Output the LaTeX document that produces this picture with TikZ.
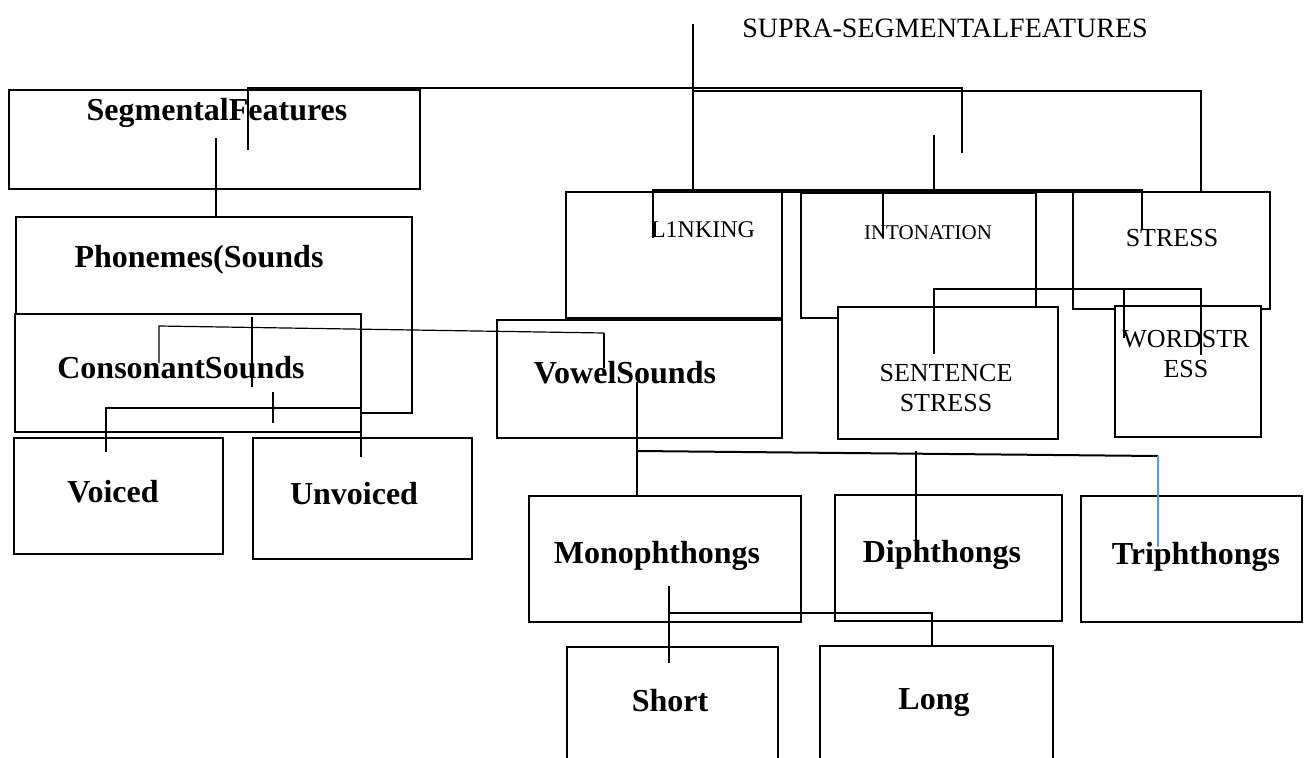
\documentclass[tikz,border=0pt]{standalone}
\usepackage{fontspec}
\setmainfont{Liberation Serif}
\usetikzlibrary{calc}
\definecolor{linkblue}{HTML}{5B9BD5}

\begin{document}
\begin{tikzpicture}[
  x=1pt,y=-1pt,
  box/.style={rectangle,draw=black,line width=2.9pt,inner sep=0pt},
  cover/.style={box,fill=white},
  sz/.style 2 args={minimum width=#1pt,minimum height=#2pt},
  lbl/.style={font=\fontsize{32}{38}\selectfont\bfseries,inner sep=0pt,anchor=base},
  caps/.style={font=\fontsize{26}{30}\selectfont,inner sep=0pt,align=center},
  conn/.style={line width=1.2pt,color=black},
  thickconn/.style={line width=2pt,color=black}
]
\useasboundingbox (0,0) rectangle (1310,758);

% boxes
\node[box,sz={411}{99}] (seg) at (214.5,139.5) {};
\node[box,sz={508}{101}] (supra) at (947,141.5) {};
\node[box,sz={396}{196}] (phon) at (214,315) {};
\node[cover,sz={346}{118}] (cons) at (188,373) {};
\node[box,sz={209}{116}] (voiced) at (118.5,496) {};
\node[box,sz={219}{121}] (unvoiced) at (362.5,498.5) {};
\node[box,sz={216}{126}] (link) at (674,255) {};
\node[box,sz={235}{125}] (inton) at (918.5,255.5) {};
\node[box,sz={197}{117}] (stress) at (1171.5,250.5) {};
\node[box,sz={285}{118}] (vowel) at (639.5,379) {};
\node[cover,sz={220}{132}] (sent) at (948,373) {};
\node[cover,sz={146}{131}] (word) at (1188,371.5) {};
\node[box,sz={272}{126}] (mono) at (665,559) {};
\node[box,sz={227}{126}] (diph) at (948.5,558) {};
\node[box,sz={221}{126}] (triph) at (1191.5,559) {};
\node[box,sz={211}{153}] (short) at (672.5,723.5) {};
\node[box,sz={233}{154}] (long) at (936.5,723) {};

% labels
\node[caps,anchor=base,font=\fontsize{28}{32}\selectfont] (supratxt) at (945,37) {SUPRA-SEGMENTALFEATURES};
\node[lbl] (segtxt) at (217,120) {SegmentalFeatures};
\node[lbl] (phontxt) at (199,267) {Phonemes(Sounds};
\node[lbl] (constxt) at (181,378) {ConsonantSounds};
\node[lbl] (voicedtxt) at (113,502) {Voiced};
\node[lbl] (unvoicedtxt) at (354,504) {Unvoiced};
\node[lbl] (voweltxt) at (625,383) {VowelSounds};
\node[lbl] (monotxt) at (657,563) {Monophthongs};
\node[lbl] (diphtxt) at (942,562) {Diphthongs};
\node[lbl] (triphtxt) at (1196,564) {Triphthongs};
\node[lbl] (shorttxt) at (670,711) {Short};
\node[lbl] (longtxt) at (934,709) {Long};
\node[caps,anchor=base,font=\fontsize{24}{28}\selectfont] (linktxt) at (703,237) {L1NKING};
\node[caps,anchor=base,font=\fontsize{21}{25}\selectfont] (intontxt) at (928,239) {INTONATION};
\node[caps,anchor=base] (stresstxt) at (1172,246) {STRESS};
\node[caps] (senttxt) at (946,388) {SENTENCE\\STRESS};
\node[caps] (wordtxt) at (1186,354) {WORDSTR\\ESS};

% connector ends
\coordinate (supstem) at (693,24);
\coordinate (segstem) at (248,150);
\coordinate (supdrop) at (962,153);
\coordinate (segfoot) at (216,138);
\coordinate (supfoot) at (934,135);
\coordinate (supbar) at (934,190);
\coordinate (linkin) at (653,238);
\coordinate (intonin) at (883,238);
\coordinate (stressin) at (1142,230);
\coordinate (phonfoot) at (252,317);
\coordinate (consin) at (252,387);
\coordinate (consstem) at (159,363);
\coordinate (vowelin) at (604,368);
\coordinate (constick) at (273,392);
\coordinate (voicedin) at (106,452);
\coordinate (unvoicedin) at (361,457);
\coordinate (vowelfoot) at (637,382);
\coordinate (vowelbar) at (637,451);
\coordinate (triphbar) at (1158,456);
\coordinate (triphin) at (1158,547);
\coordinate (diphin) at (916,540);
\coordinate (monofoot) at (669,586);
\coordinate (shortin) at (669,663);
\coordinate (monobar) at (669,613);
\coordinate (longin) at (932,646);
\coordinate (sentin) at (934,354);
\coordinate (wordin) at (1201,355);
\coordinate (wordmid) at (1124,338);

% connectors
\draw[conn] (supstem) -- (supstem |- supra.north);
\draw[conn] (segstem) -- ++(0,-62) -| (supdrop);
\draw[conn] (segfoot) -- (segfoot |- phon.north);
\draw[conn] (supfoot) -- (supbar);
\draw[conn] (linkin) -- ++(0,-48) -| (stressin);
\draw[conn] (intonin) -- (intonin |- supbar);
\draw[conn] (phonfoot) -- (consin);
\draw[conn] (consstem) -- ++(0,-37) -- ($(vowelin)+(0,-35)$);
\draw[thickconn] ($(vowelin)+(0,-35)$) -- (vowelin);
\draw[conn] (constick) -- ++(0,31);
\draw[conn] (voicedin) -- ++(0,-44) -| (unvoicedin);
\draw[conn] (vowelfoot) -- (vowelfoot |- mono.north);
\draw[thickconn] (vowelbar) -- (triphbar);
\draw[conn,linkblue] (triphbar) -- (triphin);
\draw[conn] (diphin) -- ++(0,-89);
\draw[conn] (monofoot) -- (shortin);
\draw[conn] (monobar) -| (longin);
\draw[conn] (sentin) -- ++(0,-65) -| (wordin);
\draw[conn] (wordmid) -- ++(0,-49);
\end{tikzpicture}
\end{document}
